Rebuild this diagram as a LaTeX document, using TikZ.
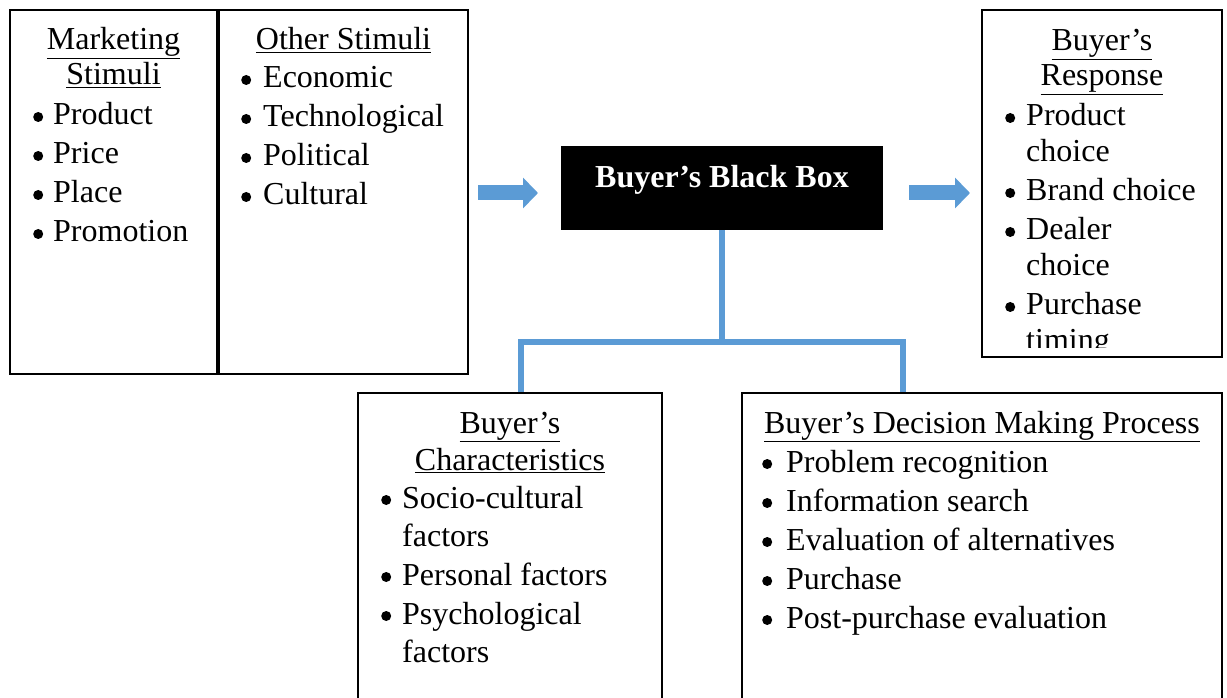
\documentclass[tikz,border=0pt]{standalone}
\usepackage{fontspec}
\setmainfont{Liberation Serif}
\usepackage{tikz}
\usetikzlibrary{positioning, arrows.meta, calc}
\definecolor{linkblue}{HTML}{5B9BD5}
\newcommand{\blt}{\tikz[baseline=-8pt]\fill (0,0) circle (5pt);}

\begin{document}
\begin{tikzpicture}[x=1pt, y=-1pt, font=\fontsize{32}{39}\selectfont,
  box/.style={draw, line width=2pt, inner sep=0pt, anchor=north west},
  boxtitle/.style={anchor=base, inner sep=0pt},
  boxlist/.style={anchor=base west, inner sep=0pt},
  link/.style={linkblue, line width=6pt},
  bigarrow/.style={linkblue, line width=15pt, -{Triangle[length=15pt, width=30pt]}}]
  \useasboundingbox (0,0) rectangle (1227,698);

  % stimuli
  \node[box, minimum width=207, minimum height=364] (mkt) at (9,9) {};
  \node[box, minimum width=249, minimum height=364] (other) at (218,9) {};
  \node[boxtitle] (mkttitle) at ([yshift=-41pt]mkt.north)
    {\begin{tabular}[t]{@{}c@{}}\underline{Marketing}\\[-4pt]\underline{Stimuli}\end{tabular}};
  \node[boxlist] (mktlist) at (33,125)
    {\begin{tabular}[t]{@{}l@{\hspace{10pt}}l@{}}\blt & Product\\ \blt & Price\\
     \blt & Place\\ \blt & Promotion\end{tabular}};
  \node[boxtitle] (othertitle) at ([yshift=-41pt]other.north) {\underline{Other Stimuli}};
  \node[boxlist] (otherlist) at (241,88)
    {\begin{tabular}[t]{@{}l@{\hspace{12pt}}l@{}}\blt & Economic\\ \blt & Technological\\
     \blt & Political\\ \blt & Cultural\end{tabular}};

  % black box
  \node[box, fill=black, minimum width=320, minimum height=82] (bbox) at (561,146) {};
  \node[anchor=base, text=white, font=\fontsize{32}{39}\selectfont\bfseries] (bbtext) at (bbox.center)
    {Buyer’s Black Box};

  % response
  \node[box, minimum width=240, minimum height=347] (resp) at (981,9) {};
  \node[boxtitle] (resptitle) at ([yshift=-42pt]resp.north)
    {\begin{tabular}[t]{@{}c@{}}\underline{Buyer’s}\\[-4pt]\underline{Response}\end{tabular}};
  \begin{scope}
    \clip (981,9) rectangle (1221,347);
    \node[boxlist] (resplist) at (1005,126)
      {\begin{tabular}[t]{@{}l@{\hspace{11pt}}l@{}}\blt & Product\\[-3pt] & choice\\
       \blt & Brand choice\\ \blt & Dealer\\[-3pt] & choice\\
       \blt & Purchase\\[-3pt] & timing\end{tabular}};
  \end{scope}

  % characteristics and decision process
  \node[box, minimum width=304, minimum height=330] (char) at (357,392) {};
  \node[box, minimum width=480, minimum height=330] (dec) at (741,392) {};
  \node[boxtitle] (chartitle) at ([yshift=-41pt]char.north)
    {\begin{tabular}[t]{@{}c@{}}\underline{Buyer’s}\\[-2pt]\underline{Characteristics}\end{tabular}};
  \node[boxlist] (charlist) at (381,508)
    {\begin{tabular}[t]{@{}l@{\hspace{11pt}}l@{}}\blt & Socio-cultural\\[-1pt] & factors\\
     \blt & Personal factors\\ \blt & Psychological\\[-1pt] & factors\end{tabular}};
  \node[boxtitle] (dectitle) at ([yshift=-41pt]dec.north) {\underline{Buyer’s Decision Making Process}};
  \node[boxlist] (declist) at (762,472)
    {\begin{tabular}[t]{@{}l@{\hspace{14pt}}l@{}}\blt & Problem recognition\\
     \blt & Information search\\ \blt & Evaluation of alternatives\\
     \blt & Purchase\\ \blt & Post-purchase evaluation\end{tabular}};

  % connectors
  \draw[bigarrow, shorten <=9pt, shorten >=23pt] ($(bbox.west -| other.east)+(0,5)$) -- ($(bbox.west)+(0,5)$);
  \draw[bigarrow, shorten <=26pt, shorten >=11pt] ($(bbox.east)+(0,5)$) -- ($(bbox.east -| resp.west)+(0,5)$);
  \draw[link] (bbox.south) -- ++(0,112) coordinate (split);
  \draw[link] ([xshift=11pt]char.north) |- (split) -| ([xshift=-79pt]dec.north);
\end{tikzpicture}
\end{document}
